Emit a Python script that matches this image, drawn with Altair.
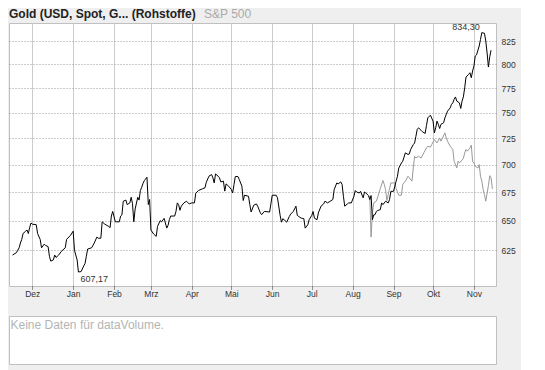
import altair as alt
import pandas as pd

title_main = "Gold (USD, Spot, G... (Rohstoffe)"
title_compare = "S&P 500"
volume_note = "Keine Daten für dataVolume."
month_names = ["Jan", "Feb", "Mrz", "Apr", "Mai", "Jun", "Jul", "Aug", "Sep", "Okt", "Nov", "Dez"]
y_ticks = [625, 650, 675, 700, 725, 750, 775, 800, 825]

gold_dates = ["2006-11-16","2006-11-19","2006-11-20","2006-11-21","2006-11-22","2006-11-23","2006-11-24","2006-11-26","2006-11-27","2006-11-28","2006-11-29","2006-11-30",
"2006-12-01","2006-12-04","2006-12-05","2006-12-07","2006-12-08","2006-12-10","2006-12-11","2006-12-13","2006-12-14","2006-12-15","2006-12-17","2006-12-18","2006-12-19","2006-12-21","2006-12-23","2006-12-26","2006-12-27","2006-12-30",
"2007-01-01","2007-01-02","2007-01-04","2007-01-05","2007-01-07","2007-01-09","2007-01-10","2007-01-11","2007-01-12","2007-01-15","2007-01-17","2007-01-19","2007-01-20","2007-01-22","2007-01-23","2007-01-25","2007-01-28","2007-01-29","2007-01-30","2007-01-31",
"2007-02-02","2007-02-05","2007-02-06","2007-02-07","2007-02-08","2007-02-10","2007-02-11","2007-02-13","2007-02-14","2007-02-15","2007-02-16","2007-02-17","2007-02-19","2007-02-20","2007-02-21","2007-02-22","2007-02-23","2007-02-24","2007-02-26","2007-02-27","2007-02-28",
"2007-03-01","2007-03-03","2007-03-05","2007-03-06","2007-03-08","2007-03-09","2007-03-11","2007-03-13","2007-03-14","2007-03-15","2007-03-16","2007-03-19","2007-03-20","2007-03-21","2007-03-22","2007-03-23","2007-03-24","2007-03-26","2007-03-28","2007-03-30",
"2007-04-01","2007-04-03","2007-04-04","2007-04-06","2007-04-09","2007-04-11","2007-04-12","2007-04-14","2007-04-16","2007-04-17","2007-04-18","2007-04-19","2007-04-21","2007-04-22","2007-04-23","2007-04-25","2007-04-26","2007-04-27","2007-04-29",
"2007-05-01","2007-05-02","2007-05-03","2007-05-04","2007-05-06","2007-05-07","2007-05-09","2007-05-10","2007-05-11","2007-05-14","2007-05-15","2007-05-16","2007-05-18","2007-05-20","2007-05-21","2007-05-23","2007-05-24","2007-05-26","2007-05-30","2007-05-31",
"2007-06-01","2007-06-04","2007-06-05","2007-06-07","2007-06-08","2007-06-09","2007-06-10","2007-06-12","2007-06-14","2007-06-15","2007-06-17","2007-06-19","2007-06-20","2007-06-21","2007-06-23","2007-06-25","2007-06-26","2007-06-28","2007-06-29",
"2007-07-01","2007-07-02","2007-07-03","2007-07-05","2007-07-06","2007-07-08","2007-07-10","2007-07-11","2007-07-13","2007-07-15","2007-07-17","2007-07-18","2007-07-20","2007-07-21","2007-07-23","2007-07-24","2007-07-25","2007-07-26","2007-07-28","2007-07-29","2007-07-31",
"2007-08-02","2007-08-03","2007-08-04","2007-08-06","2007-08-07","2007-08-09","2007-08-10","2007-08-11","2007-08-13","2007-08-14","2007-08-15","2007-08-16","2007-08-17","2007-08-18","2007-08-19","2007-08-20","2007-08-22","2007-08-23","2007-08-24","2007-08-26","2007-08-28","2007-08-29","2007-08-30",
"2007-09-01","2007-09-02","2007-09-03","2007-09-04","2007-09-05","2007-09-07","2007-09-08","2007-09-10","2007-09-12","2007-09-13","2007-09-14","2007-09-16","2007-09-17","2007-09-18","2007-09-19","2007-09-20","2007-09-22","2007-09-23","2007-09-25","2007-09-26","2007-09-27","2007-09-29",
"2007-10-01","2007-10-02","2007-10-03","2007-10-04","2007-10-05","2007-10-06","2007-10-07","2007-10-09","2007-10-10","2007-10-11","2007-10-12","2007-10-14","2007-10-15","2007-10-16","2007-10-17","2007-10-18","2007-10-19","2007-10-21","2007-10-22","2007-10-23","2007-10-24","2007-10-25","2007-10-26","2007-10-28","2007-10-29","2007-10-30","2007-10-31",
"2007-11-01","2007-11-02","2007-11-03","2007-11-05","2007-11-06","2007-11-07","2007-11-09","2007-11-10","2007-11-11","2007-11-12","2007-11-13","2007-11-14"]

gold_values = [621,623,625,627,631,634,639,641,642,639,644,648,
647,646.5,639,634,627,630,629,628,620,616,617,621,619,621,624,627,634,637.5,
641,625,617,607.17,607.5,612,614,620,626,627,631,636,635,635,649,647,645,644,654,658,
649,649,654,655,667,668,664,665.5,670.5,665,649,660,670.5,668,676.5,679.5,683,685.5,688.6,664,668.5,
642,638.6,636.6,645,650,649,652,643.6,646,651,654,654,658,665.5,664,659,662.6,665.5,667,664.6,
665.5,665.5,674,676.5,678,679,684,689.5,691,688,683.4,691.6,689.5,688,684.3,685,676,682.5,680.4,
677.4,674.3,682,689.2,689.2,686.5,680.4,667.6,672.3,671.4,664,657.5,663.5,664.6,662.6,656.7,655.2,658,657.5,664.6,
672.3,672.3,670,654.6,648.7,651.7,650.8,648.7,653.7,655.7,658,662.6,654.6,653.7,652.2,651.7,643.6,646.5,650.8,
654.6,658,652.2,650.8,656.7,662.6,664.6,667,665.5,667,668.5,677.4,683.4,682.5,684.3,682,671.4,662.6,664.6,665.5,665.5,
671.4,676.5,675.2,674.3,675.8,670,675.2,674.3,672,668.5,672,650.8,655,655.2,658,658.8,659.6,665.5,664,667,665.5,668.5,675.8,
675.8,680.4,685,689.5,697,701.7,703.3,711.2,709.7,710.2,714.4,719,720.6,727,733.7,735.2,732.7,731.4,729.8,737.4,745,747.7,
741.8,730.3,735.2,741.8,738.6,734.6,738.6,740.2,745,748.4,751.7,755,758.5,760,763.6,766,761.8,760,754.4,761.8,766,775.3,786.5,789.3,791,785.8,792.8,
798,808.8,810,819.6,826.8,834.3,833.5,825,812,797,808,815]

spx_dates = ["2007-08-14","2007-08-15","2007-08-16","2007-08-17","2007-08-19","2007-08-21","2007-08-22","2007-08-24","2007-08-25","2007-08-26","2007-08-27","2007-08-28","2007-08-29","2007-08-30",
"2007-09-02","2007-09-03","2007-09-05","2007-09-07","2007-09-08","2007-09-10","2007-09-12","2007-09-13","2007-09-15","2007-09-16","2007-09-17","2007-09-18","2007-09-20","2007-09-22","2007-09-24","2007-09-26","2007-09-27","2007-09-29","2007-09-30",
"2007-10-02","2007-10-04","2007-10-06","2007-10-07","2007-10-10","2007-10-11","2007-10-12","2007-10-14","2007-10-16","2007-10-17","2007-10-19","2007-10-20","2007-10-21","2007-10-24","2007-10-25","2007-10-26","2007-10-27","2007-10-29","2007-10-30","2007-10-31",
"2007-11-01","2007-11-02","2007-11-04","2007-11-05","2007-11-06","2007-11-07","2007-11-08","2007-11-09","2007-11-10","2007-11-12","2007-11-13","2007-11-14","2007-11-15"]

spx_values = [672,636,656.6,665.5,667,674.3,678.3,685.6,682,677.4,667.6,672.9,678.3,683.4,
683.4,678.3,672.3,672.3,682,685,689.5,688,685,697.1,708,706.4,708,706.4,711.2,715.9,717.5,716.6,719.1,
723.9,720.6,725.4,722.3,730.3,725.4,722.3,717.5,714.4,703.3,697.1,703.3,701.7,705.9,711.2,714.4,712.8,715.9,718.5,703.3,
701.7,698.6,697.1,700.2,689.5,685,677.4,672.9,667,681,690,688,678]

extreme_dates = ["2007-01-05", "2007-11-07"]
extreme_values = [607.17, 834.30]

assert len(gold_dates) == len(gold_values)
assert len(spx_dates) == len(spx_values)

gold_df = pd.DataFrame({"date": pd.to_datetime(gold_dates), "value": gold_values})
spx_df = pd.DataFrame({"date": pd.to_datetime(spx_dates), "value": spx_values})
ext_df = pd.DataFrame({
    "date": pd.to_datetime(extreme_dates),
    "value": extreme_values,
    "label": [f"{v:.2f}".replace(".", ",") for v in extreme_values],
})

FONT = "Liberation Sans"
label_expr = "[" + ",".join(f"'{m}'" for m in month_names) + "][month(datum.value)]"

x_enc = alt.X(
    "date:T",
    scale=alt.Scale(domain=[alt.DateTime(year=2006, month=11, date=13, hours=8),
                            alt.DateTime(year=2007, month=11, date=17, hours=18)]),
    axis=alt.Axis(
        title=None, tickCount={"interval": "month", "step": 1}, labelExpr=label_expr,
        grid=True, gridColor="#cccccc", gridWidth=1, domain=False,
        ticks=True, tickColor="#333333", tickSize=3, tickDash=[1, 1],
        labelFont=FONT, labelFontSize=8.5, labelColor="#333333", labelPadding=0,
        labelFlush=False, labelOverlap=False,
    ),
)
y_enc = alt.Y(
    "value:Q",
    scale=alt.Scale(type="log", domain=[596, 845], nice=False, zero=False),
    axis=alt.Axis(
        title=None, orient="right", values=y_ticks, format="d",
        grid=True, gridDash=[1, 2], gridColor="#999999", ticks=False, domain=False,
        labelFont=FONT, labelFontSize=8.5, labelColor="#333333", labelPadding=5,
    ),
)

spx_line = alt.Chart(spx_df).mark_line(color="#999999", strokeWidth=1).encode(x=x_enc, y=y_enc)
gold_line = alt.Chart(gold_df).mark_line(color="#000000", strokeWidth=1).encode(x=x_enc, y=y_enc)

max_text = alt.Chart(ext_df.iloc[[1]]).mark_text(
    align="right", baseline="bottom", dx=-2, dy=-1, font=FONT, fontSize=9, color="#333333"
).encode(x="date:T", y="value:Q", text="label:N")
min_text = alt.Chart(ext_df.iloc[[0]]).mark_text(
    align="left", baseline="top", dx=2, dy=3, font=FONT, fontSize=9, color="#333333"
).encode(x="date:T", y="value:Q", text="label:N")

title1 = alt.Chart(pd.DataFrame({"t": [title_main]})).mark_text(
    align="left", baseline="alphabetic", font=FONT, fontSize=12, fontWeight="bold", color="#222222"
).encode(text="t:N", x=alt.value(0), y=alt.value(-5))
title2 = alt.Chart(pd.DataFrame({"t": [title_compare]})).mark_text(
    align="left", baseline="alphabetic", font=FONT, fontSize=12, color="#aaaaaa"
).encode(text="t:N", x=alt.value(195), y=alt.value(-5))

top = alt.layer(spx_line, gold_line, max_text, min_text, title1, title2).properties(width=487, height=263)

bottom = alt.Chart(pd.DataFrame({"t": [volume_note]})).mark_text(
    align="left", baseline="top", font=FONT, fontSize=12, color="#b4b4b4"
).encode(text="t:N", x=alt.value(1.5), y=alt.value(4)).properties(width=487, height=48)

chart = alt.vconcat(top, bottom, spacing=17).properties(
    background="#efefef", padding={"left": 0, "top": -1, "right": 5, "bottom": 5}
).configure_view(stroke="#c0c0c0", fill="white", strokeWidth=1)

chart.save("out.html", embed_options={"renderer": "svg", "actions": False})
